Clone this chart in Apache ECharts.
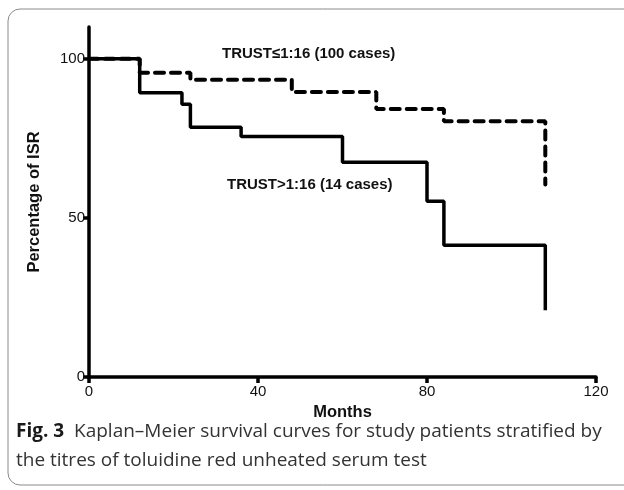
<!DOCTYPE html>
<html>
<head>
<meta charset="utf-8">
<script src="https://cdn.jsdelivr.net/npm/echarts@6/dist/echarts.min.js"></script>
<style>html,body{margin:0;padding:0;background:#fff}#c{width:624px;height:490px}</style>
</head>
<body>
<div id="c"></div>
<script>
// Kaplan–Meier step data (months, percentage)
const highMonths = [0, 12, 22, 24, 36, 60, 80, 84, 108];
const highSurv   = [100, 89.3, 85.7, 78.5, 75.6, 67.5, 55.2, 41.4, 21];
const lowMonths  = [0, 12, 24, 48, 68, 84, 108];
const lowSurv    = [100, 95.6, 93.4, 89.6, 84.2, 80.4, 60.5];
const xTicks = [0, 40, 80, 120];
const yTicks = [0, 50, 100];
const lowLabel = 'TRUST≤1:16 (100 cases)';
const highLabel = 'TRUST>1:16 (14 cases)';

const chart = echarts.init(document.getElementById('c'), null, {renderer: 'canvas'});
const pair = (xs, ys) => xs.map((x, i) => [x, ys[i]]);
const axisText = {color: '#111', fontFamily: 'Liberation Sans, Arial, sans-serif', fontSize: 15};
const nameText = {color: '#111', fontFamily: 'Liberation Sans, Arial, sans-serif', fontSize: 16.5, fontWeight: 'bold'};

chart.setOption({
  animation: false,
  grid: {left: 89, right: 28, top: 27, bottom: 113},
  xAxis: {
    type: 'value', min: 0, max: 120, interval: 40,
    name: 'Months', nameLocation: 'middle', nameGap: 26,
    nameTextStyle: nameText,
    axisLine: {lineStyle: {color: '#000', width: 3.5}},
    axisTick: {length: 6, lineStyle: {color: '#000', width: 3.5}, customValues: xTicks},
    axisLabel: {...axisText, margin: 7, customValues: xTicks},
    splitLine: {show: false}
  },
  yAxis: {
    type: 'value', min: 0, max: 110,
    name: 'Percentage of ISR', nameLocation: 'middle', nameGap: 46,
    nameTextStyle: nameText,
    axisLine: {show: true, lineStyle: {color: '#000', width: 3.5}},
    axisTick: {show: true, length: 6, lineStyle: {color: '#000', width: 3.5}, customValues: yTicks},
    axisLabel: {...axisText, margin: 4, customValues: yTicks},
    splitLine: {show: false}
  },
  series: [
    {type: 'line', step: 'end', data: pair(highMonths, highSurv), symbol: 'none',
     lineStyle: {color: '#000', width: 3.5}},
    {type: 'line', step: 'end', data: pair(lowMonths, lowSurv), symbol: 'none',
     lineStyle: {color: '#000', width: 4, type: [9, 7], cap: 'round'}}
  ],
  graphic: [
    {type: 'rect', shape: {x: 8, y: 9, width: 640, height: 476, r: 12}, style: {fill: 'none', stroke: '#8a8a8a', lineWidth: 1}, silent: true},
    {type: 'text', left: 222, top: 46, style: {text: lowLabel, fill: '#111', font: 'bold 15px "Liberation Sans", Arial, sans-serif'}},
    {type: 'text', left: 227, top: 177, style: {text: highLabel, fill: '#111', font: 'bold 15px "Liberation Sans", Arial, sans-serif'}},
    {type: 'text', left: 16, top: 417, style: {
      rich: {
        b: {font: 'bold 19px "Open Sans", Lato, sans-serif', fill: '#1a1a1a'},
        n: {font: '19px "Open Sans", Lato, sans-serif', fill: '#333'}
      },
      text: '{b|Fig. 3}{n|  Kaplan–Meier survival curves for study patients stratified by}\n{n|the titres of toluidine red unheated serum test}',
      lineHeight: 29
    }}
  ]
});
</script>
</body>
</html>
